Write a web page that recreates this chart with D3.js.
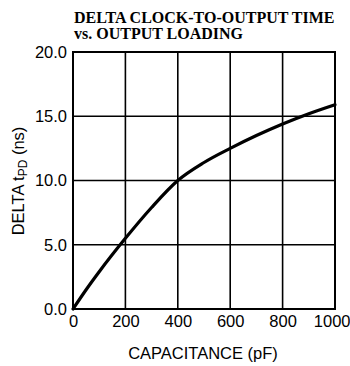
<!DOCTYPE html>
<html>
<head>
<meta charset="utf-8">
<script src="https://cdn.jsdelivr.net/npm/d3@7"></script>
<style>
  html, body { margin: 0; padding: 0; background: #fff; }
  svg { display: block; }
</style>
</head>
<body>
<svg id="chart" width="350" height="366"></svg>
<script>
// Delta clock-to-output time versus capacitive load
const capacitance = [0, 50, 100, 200, 300, 400, 500, 600, 700, 800, 900, 1000];
const deltaTpd    = [0, 1.5, 2.9, 5.5, 7.9, 10.0, 11.4, 12.5, 13.5, 14.4, 15.2, 15.9];
const xTicks = [0, 200, 400, 600, 800, 1000];
const yTicks = [0, 5, 10, 15, 20];
const titleLines = ["DELTA CLOCK-TO-OUTPUT TIME", "vs. OUTPUT LOADING"];

const svg = d3.select("#chart");
const margin = { left: 73, right: 15, top: 52, bottom: 57 };
const W = 350, H = 366;
const iw = W - margin.left - margin.right;
const ih = H - margin.top - margin.bottom;

const x = d3.scaleLinear().domain([0, 1000]).range([0, iw]);
const y = d3.scaleLinear().domain([0, 20]).range([ih, 0]);

// Title
const title = svg.append("text")
  .attr("font-family", "'Liberation Serif', 'Times New Roman', serif")
  .attr("font-weight", "bold")
  .attr("font-size", 16)
  .attr("fill", "#000");
titleLines.forEach((t, i) => {
  title.append("tspan").attr("x", 74).attr("y", 23 + i * 16).text(t);
});

const g = svg.append("g").attr("transform", `translate(${margin.left},${margin.top})`);

// Grid lines
g.append("g").selectAll("line").data(xTicks.slice(1, -1)).join("line")
  .attr("x1", d => x(d)).attr("x2", d => x(d))
  .attr("y1", 0).attr("y2", ih)
  .attr("stroke", "#000").attr("stroke-width", 1.6);
g.append("g").selectAll("line").data(yTicks.slice(1, -1)).join("line")
  .attr("y1", d => y(d)).attr("y2", d => y(d))
  .attr("x1", 0).attr("x2", iw)
  .attr("stroke", "#000").attr("stroke-width", 1.6);

// Frame
g.append("rect").attr("x", 0).attr("y", 0).attr("width", iw).attr("height", ih)
  .attr("fill", "none").attr("stroke", "#000").attr("stroke-width", 2);

// Axes (labels only)
const fontSans = "'Liberation Sans', Arial, Helvetica, sans-serif";
const xAxis = g.append("g").attr("transform", `translate(0,${ih})`)
  .call(d3.axisBottom(x).tickValues(xTicks).tickSize(0).tickPadding(6).tickFormat(d3.format("d")));
const yAxis = g.append("g")
  .call(d3.axisLeft(y).tickValues(yTicks).tickSize(0).tickPadding(6).tickFormat(d3.format(".1f")));
[xAxis, yAxis].forEach(a => {
  a.select(".domain").remove();
  a.selectAll("text").attr("font-family", fontSans).attr("font-size", 16.5).attr("fill", "#000");
});
// keep the last x label inside the page
xAxis.selectAll(".tick text").filter(d => d === 1000)
  .attr("text-anchor", "end").attr("x", W - margin.left - iw);

// Curve
const line = d3.line().x((d, i) => x(capacitance[i])).y(d => y(d)).curve(d3.curveMonotoneX);
g.append("path").datum(deltaTpd)
  .attr("d", line)
  .attr("fill", "none").attr("stroke", "#000").attr("stroke-width", 3.2)
  .attr("stroke-linecap", "round");

// Axis titles
svg.append("text")
  .attr("x", 203).attr("y", 359)
  .attr("text-anchor", "middle")
  .attr("font-family", fontSans).attr("font-size", 16.5).attr("fill", "#000")
  .text("CAPACITANCE (pF)");

const yl = svg.append("text")
  .attr("transform", "translate(24,181) rotate(-90)")
  .attr("text-anchor", "middle")
  .attr("font-family", fontSans).attr("font-size", 16.5).attr("fill", "#000");
yl.append("tspan").text("DELTA t");
yl.append("tspan").attr("font-size", 12).attr("dy", 3).text("PD");
yl.append("tspan").attr("dy", -3).text("  (ns)");
</script>
</body>
</html>
